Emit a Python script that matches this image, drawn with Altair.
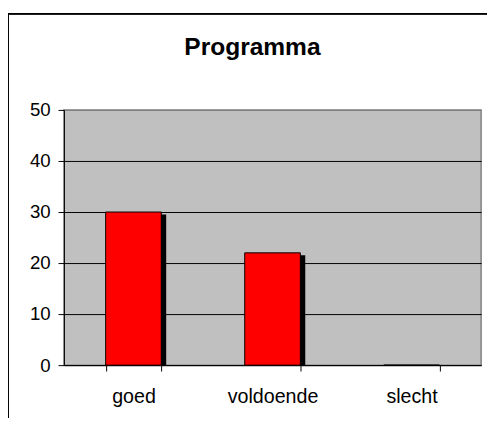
import altair as alt
import pandas as pd

categories = ["goed", "voldoende", "slecht"]
values = [30, 22, 0]
y_ticks = [0, 10, 20, 30, 40, 50]
title_text = "Programma"

df = pd.DataFrame({"cat": categories, "val": values})

FONT = "Liberation Sans"

x_enc = alt.X(
    "cat:N",
    sort=categories,
    scale=alt.Scale(paddingInner=0.6, paddingOuter=0.3),
    axis=alt.Axis(
        title=None,
        labelAngle=0,
        labelFont=FONT,
        labelFontSize=20,
        labelColor="black",
        labelPadding=16,
        tickBand="extent",
        tickSize=6,
        tickColor="black",
        domainColor="black",
        grid=False,
    ),
)
y_enc = alt.Y(
    "val:Q",
    stack=None,
    scale=alt.Scale(domain=[0, 50], nice=False),
    axis=alt.Axis(
        title=None,
        values=y_ticks,
        labelFont=FONT,
        labelFontSize=19,
        labelColor="black",
        labelPadding=8,
        tickSize=6,
        tickColor="black",
        domainColor="black",
        grid=True,
        gridColor=alt.condition("datum.value === 50", alt.value("#808080"), alt.value("black")),
        gridOpacity=1,
        gridWidth=1,
    ),
)

shadow = alt.Chart(df).transform_filter("datum.val > 0").mark_bar(
    color="black", xOffset=5, yOffset=2.5, y2Offset=0
).encode(
    x=x_enc,
    y=y_enc,
    y2=alt.datum(0),
)

bars = alt.Chart(df).mark_bar(
    color="#ff0000", stroke="black", strokeWidth=1
).encode(
    x=x_enc,
    y=y_enc,
    y2=alt.datum(0),
)

title = alt.Chart(pd.DataFrame({"t": [title_text]})).mark_text(
    font=FONT, fontSize=25, fontWeight="bold", color="black",
    align="center", baseline="alphabetic"
).encode(
    text="t:N", x=alt.value(192), y=alt.value(-56)
)

border_left = alt.Chart(df).mark_rule(color="black", strokeWidth=1.5).encode(
    x=alt.value(-57), y=alt.value(-98), y2=alt.value(330)
)
border_top = alt.Chart(df).mark_rule(color="black", strokeWidth=1.5).encode(
    x=alt.value(-57), x2=alt.value(440), y=alt.value(-98)
)

chart = alt.layer(shadow, bars, title, border_left, border_top).properties(
    width=425,
    height=260,
    padding={"left": 57, "top": 100, "right": 6, "bottom": 50},
    autosize=alt.AutoSizeParams(type="none"),
    background="white",
).configure_view(
    fill="#c0c0c0", stroke="#808080", strokeWidth=1.5
)

chart.save("out.html", embed_options={"renderer": "svg", "actions": False})
